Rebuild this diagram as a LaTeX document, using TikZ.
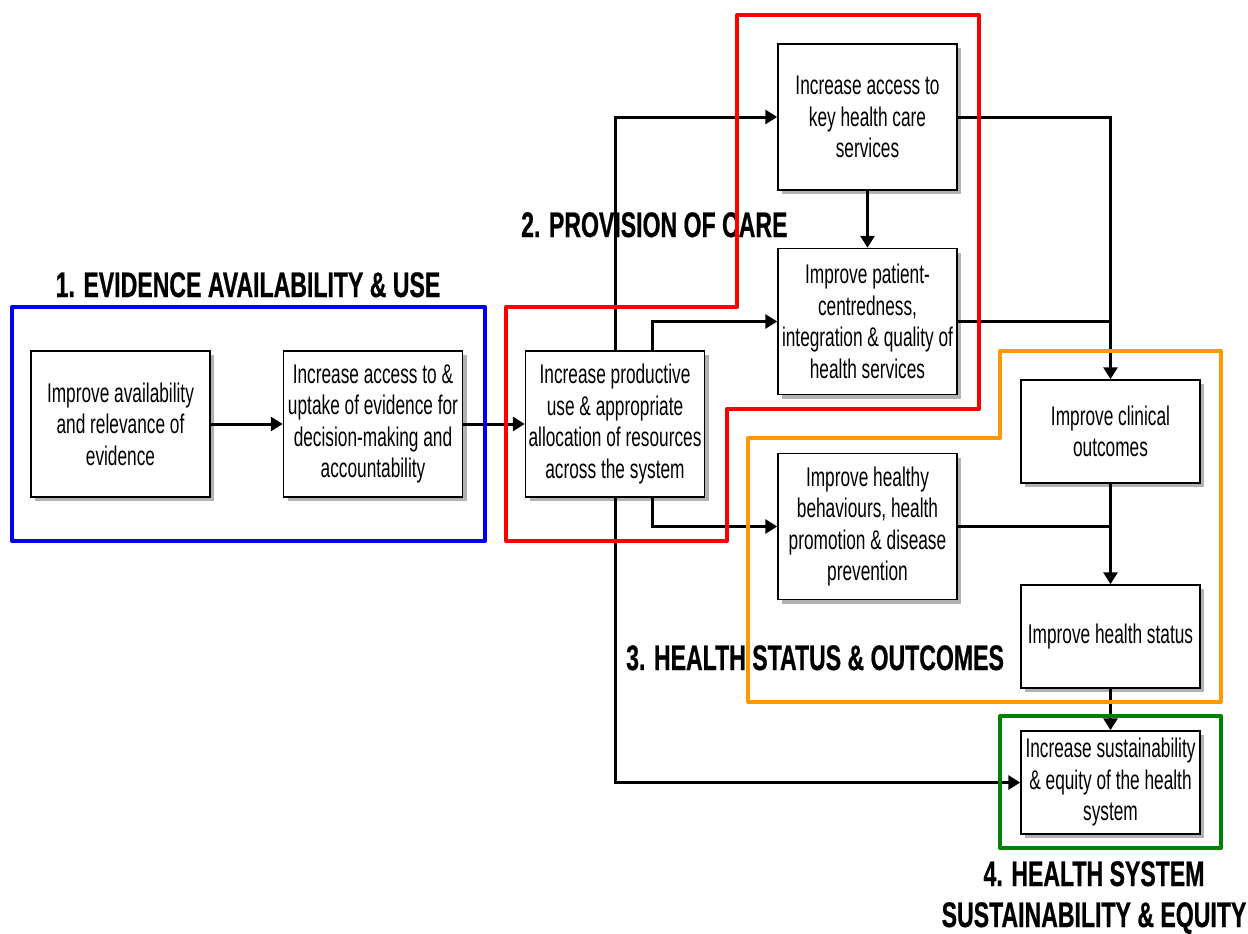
\documentclass[tikz,border=0pt]{standalone}
\usepackage{fontspec}
\setmainfont[FakeStretch=0.64]{Liberation Sans}
\newfontfamily\titlefont[FakeStretch=0.65,FakeBold=0.6]{Liberation Sans}
\usetikzlibrary{arrows.meta,shadows,calc}
\definecolor{grpblue}{RGB}{0,0,240}
\definecolor{grpred}{RGB}{250,0,0}
\definecolor{grporange}{RGB}{255,153,0}
\definecolor{grpgreen}{RGB}{0,130,0}
\begin{document}
\begin{tikzpicture}[x=1pt,y=-1pt,
  box/.style={draw=black,line width=1.5pt,fill=white,align=center,
    minimum width=179pt,inner sep=2pt,
    font=\fontsize{27}{31.5}\selectfont,
    drop shadow={opacity=1,fill=black!30,shadow xshift=4pt,shadow yshift=-4pt}},
  tall/.style={minimum height=146pt},
  short/.style={minimum height=103pt},
  conn/.style={line width=3pt,-{Triangle[length=12pt,width=14pt]}},
  plain/.style={line width=3pt},
  grp/.style={line width=4pt,line join=round},
  ttl/.style={font=\titlefont\bfseries\fontsize{35.5}{40}\selectfont,inner sep=0pt,anchor=base}]
\useasboundingbox (0,0) rectangle (1248,934);

% titles
\node[ttl] (t1) at (248,297) {1. EVIDENCE AVAILABILITY \& USE};
\node[ttl,anchor=base west] (t2) at (521,237) {2. PROVISION OF CARE};
\node[ttl,anchor=base west] (t3) at (626,670) {3. HEALTH STATUS \& OUTCOMES};
\node[ttl] (t4a) at (1094,886) {4. HEALTH SYSTEM};
\node[ttl] (t4b) at (1094,927) {SUSTAINABILITY \& EQUITY};

% boxes
\node[box,tall] (A) at (120.5,424) {Improve availability\\and relevance of\\evidence};
\node[box,tall] (B) at (373,424) {Increase access to \&\\uptake of evidence for\\decision-making and\\accountability};
\node[box,tall] (C) at (615,424) {Increase productive\\use \& appropriate\\allocation of resources\\across the system};
\node[box,tall] (D) at (867.5,117) {Increase access to\\key health care\\services};
\node[box,tall] (E) at (867.5,321.5) {Improve patient-\\centredness,\\integration \& quality of\\health services};
\node[box,tall] (F) at (867.5,526.5) {Improve healthy\\behaviours, health\\promotion \& disease\\prevention};
\node[box,short] (G) at (1110.5,431.5) {Improve clinical\\outcomes};
\node[box,short] (H) at (1110.5,636.5) {Improve health status};
\node[box,short] (I) at (1110.5,782.5) {Increase sustainability\\\& equity of the health\\system};

% connectors
\draw[conn] (A.east) -- (B.west);
\draw[conn] (B.east) -- (C.west);
\draw[conn] (C.north) |- (D.west);
\draw[conn] ([xshift=37pt]C.north) |- (E.west);
\draw[conn] ([xshift=37pt]C.south) |- (F.west);
\draw[conn] (C.south) |- (I.west);
\draw[conn] (D.south) -- (E.north);
\draw[conn] (D.east) -| (G.north);
\draw[plain] (E.east) -- (E.east -| G.north);
\draw[plain] (F.east) -- (F.east -| G.south);
\draw[conn] (G.south) -- (H.north);
\draw[conn] (H.south) -- (I.north);

% groups
\draw[grp,grpblue] (12,307) rectangle (485,541);
\draw[grp,grpred] (506,307) -- (737,307) -- (737,15) -- (979,15) -- (979,409) -- (727,409) -- (727,541) -- (506,541) -- cycle;
\draw[grp,grporange] (748,438) -- (1000,438) -- (1000,351) -- (1221,351) -- (1221,702) -- (748,702) -- cycle;
\draw[grp,grpgreen] (1000,716) rectangle (1221,848);
\end{tikzpicture}
\end{document}
